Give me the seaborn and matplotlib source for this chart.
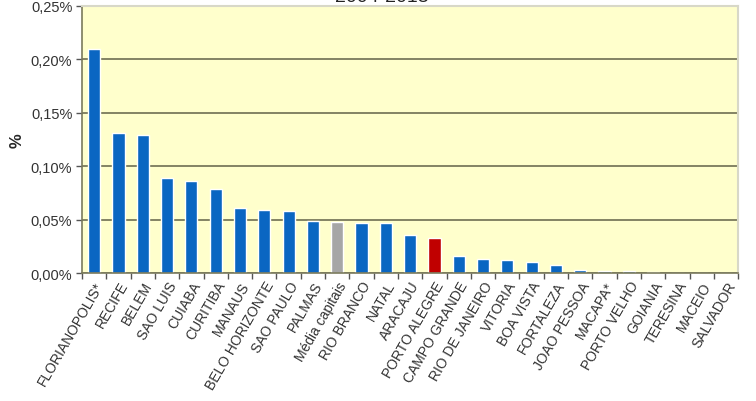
import numpy as np
import matplotlib
matplotlib.use("Agg")
import matplotlib.pyplot as plt
import seaborn as sns
from matplotlib.ticker import FuncFormatter, FixedLocator

# Data (% values)
cities = ["FLORIANOPOLIS*", "RECIFE", "BELEM", "SAO LUIS", "CUIABA", "CURITIBA",
          "MANAUS", "BELO HORIZONTE", "SAO PAULO", "PALMAS", "Média capitais",
          "RIO BRANCO", "NATAL", "ARACAJU", "PORTO ALEGRE", "CAMPO GRANDE",
          "RIO DE JANEIRO", "VITORIA", "BOA VISTA", "FORTALEZA", "JOAO PESSOA",
          "MACAPA*", "PORTO VELHO", "GOIANIA", "TERESINA", "MACEIO", "SALVADOR"]
values = [0.210, 0.131, 0.129, 0.089, 0.086, 0.079,
          0.061, 0.059, 0.058, 0.049, 0.048,
          0.047, 0.0465, 0.0356, 0.033, 0.0162,
          0.0137, 0.0122, 0.0103, 0.0081, 0.0031,
          0.0022, 0.0020, 0.0012, 0.0, 0.0, 0.0]
highlight = {"Média capitais": "#A6A6A6", "PORTO ALEGRE": "#C00000"}
y_ticks = [0.0, 0.05, 0.10, 0.15, 0.20, 0.25]

sns.set_style("white")
plt.rcParams["font.family"] = ["Liberation Sans", "DejaVu Sans"]

palette = {c: highlight.get(c, "#0A66C2") for c in cities}

fig = plt.figure(figsize=(7.56, 4.02), dpi=100)
ax = fig.add_axes([0.1085, 0.318, 0.868, 0.665])
ax.set_facecolor("#FFFFCC")

sns.barplot(x=cities, y=values, hue=cities, palette=palette, legend=False,
            width=0.5, saturation=1, ax=ax)

ax.set_ylim(0, 0.25)
ax.set_xlim(-0.5, len(cities) - 0.5)
ax.yaxis.set_major_locator(FixedLocator(y_ticks))
ax.yaxis.set_major_formatter(FuncFormatter(lambda v, p: f"{v:.2f}%".replace(".", ",")))
ax.set_axisbelow(True)
ax.grid(axis="y", color="#7A7A5C", linewidth=1.3)
ax.grid(axis="x", visible=False)

# category ticks between bars, like the original spreadsheet chart
ax.set_xticks(np.arange(len(cities) + 1) - 0.5, minor=True)
ax.tick_params(axis="x", which="major", bottom=True, length=0, pad=4)
ax.tick_params(axis="x", which="minor", bottom=True, length=4, width=1,
               color="#555555", direction="out")
ax.tick_params(axis="y", left=True, length=4, width=1, color="#555555", direction="out",
               labelsize=10.5, labelcolor="#333333", pad=3)
plt.setp(ax.get_xticklabels(), rotation=60, ha="right", rotation_mode="anchor",
         fontsize=10, color="#333333")

for side in ["left", "bottom"]:
    ax.spines[side].set_color("#7A7A5C")
    ax.spines[side].set_linewidth(1.2)
for side in ["right", "top"]:
    ax.spines[side].set_visible(True)
    ax.spines[side].set_color("#D8D8C8")
    ax.spines[side].set_linewidth(1.5)

ax.set_xlabel("")
ax.set_ylabel("%", fontsize=12, fontweight="bold", labelpad=4)

fig.text(0.505, 0.995, "2004-2013", ha="center", va="baseline", fontsize=14, color="#222222")

fig.savefig("out.png", dpi=100, facecolor="white")
